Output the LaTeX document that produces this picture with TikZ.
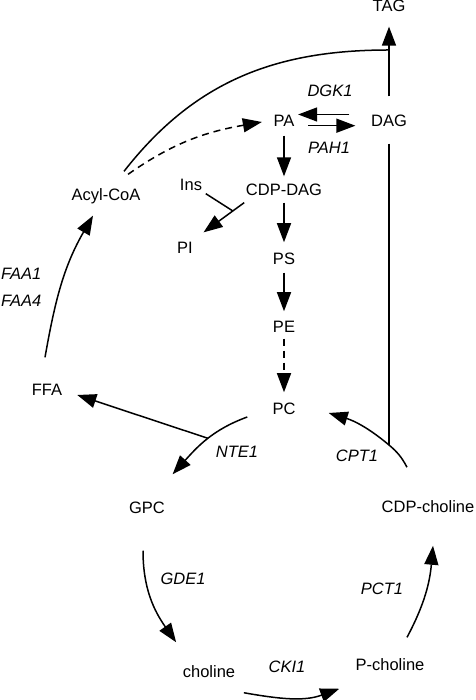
\documentclass[tikz,border=0pt]{standalone}
\usepackage{fontspec}
\setmainfont{Liberation Sans}
\usetikzlibrary{arrows.meta}
\begin{document}
\begin{tikzpicture}[
    x=1pt, y=1pt, line width=1.5pt,
    every node/.style = { inner sep=0pt, text height=11.8pt, text depth=0pt,
                          font=\fontsize{16.5}{19}\selectfont },
    enzyme/.style = { font=\fontsize{16.5}{19}\selectfont\itshape },
    arr/.style = { -{Triangle[length=19pt,width=14pt]} },
    indirect/.style = { dash pattern=on 7pt off 5pt }
    ]
\useasboundingbox (0,0) rectangle (475,700);
\node (TAG) at (389,694) {TAG};
\node (DAG) at (389,579) {DAG};
\node (PA) at (284,579) {PA};
\node[enzyme] (DGK1) at (330,609) {DGK1};
\node[enzyme] (PAH1) at (329,552) {PAH1};
\node (AcylCoA) at (106,505) {Acyl-CoA};
\node (Ins) at (191,515) {Ins};
\node (CDPDAG) at (284,510) {CDP-DAG};
\node (PI) at (185,452) {PI};
\node (PS) at (284,441.5) {PS};
\node (PE) at (284,373.5) {PE};
\node (PC) at (284,291.5) {PC};
\node (FFA) at (47,310) {FFA};
\node[enzyme, anchor=west] (FAA1) at (0.5,426) {FAA1};
\node[enzyme, anchor=west] (FAA4) at (0.5,399) {FAA4};
\node[enzyme] (NTE1) at (237,248.5) {NTE1};
\node[enzyme] (CPT1) at (357,244) {CPT1};
\node (GPC) at (147,192.5) {GPC};
\node (CDPcho) at (428,193.5) {CDP-choline};
\node[enzyme] (GDE1) at (183,121) {GDE1};
\node (choline) at (209,28.5) {choline};
\node[enzyme] (CKI1) at (287,33.5) {CKI1};
\node (Pcho) at (390,35) {P-choline};
\node[enzyme] (PCT1) at (382,111.5) {PCT1};
\coordinate (j1) at (389,650);
\coordinate (j2) at (389,255);
%
\foreach \Source/\Target/\Pre/\Post in {%
        DAG.north/TAG.south/18pt/14pt,
        PA.south/CDPDAG.north/8pt/7pt,
        CDPDAG.south/PS.north/6pt/9.6pt,
        PS.south/PE.north/7.6pt/8.6pt%
    }
\draw[arr, shorten <=\Pre, shorten >=\Post] (\Source) -- (\Target);
\draw[arr, shorten <=21pt, shorten >=3pt] ([yshift=6.5pt]DAG.west) -- ([yshift=6.5pt]PA.east);
\draw[arr, shorten <=13pt, shorten >=15pt] ([yshift=-4.7pt]PA.east) -- ([yshift=-4.7pt]DAG.west);
\draw[arr, indirect, shorten <=5.6pt, shorten >=9.6pt] (PE.south) -- (PC.north);
\draw[shorten <=16pt] (DAG.south) -- (j2);
%
\draw[arr] ([shift={(-1,-6)}]CDPDAG.south west) -- coordinate[pos=0.28] (pij) ([shift={(10,9)}]PI.north east);
\draw ([shift={(3,-2)}]Ins.south east) -- (pij);
%
\draw ([shift={(18,17)}]AcylCoA.north) to[out=52,in=180] (j1);
\draw[arr, indirect] ([shift={(22,14)}]AcylCoA.north) to[out=35,in=190] ([shift={(-11,-1)}]PA.west);
\draw[arr] ([shift={(-2,26)}]FFA.north) to[out=80,in=240] ([shift={(-13,-14)}]AcylCoA.south);
\draw[arr] ([shift={(-24.5,-8.5)}]PC.west) to[out=200,in=48] coordinate[pos=0.47] (ffaj) ([shift={(7,26.6)}]GPC.north east);
\draw[arr] (ffaj) -- ([shift={(14.4,-5)}]FFA.east);
\draw[arr] ([shift={(-21,32.6)}]CDPcho.north) to[out=118,in=-40] (j2) to[out=140,in=-17] ([shift={(32.5,-4.5)}]PC.east);
\draw[arr] ([shift={(-4,-36.6)}]GPC.south) to[out=-90,in=125] ([shift={(-6,22.6)}]choline.north west);
\draw[arr] ([shift={(8,-14.6)}]choline.south east) to[out=-10,in=200] ([shift={(-15.6,-17.1)}]Pcho.south west);
\draw[arr] ([shift={(17,21)}]Pcho.north) to[out=62,in=-95] ([shift={(5,-32.6)}]CDPcho.south);
\end{tikzpicture}
\end{document}
